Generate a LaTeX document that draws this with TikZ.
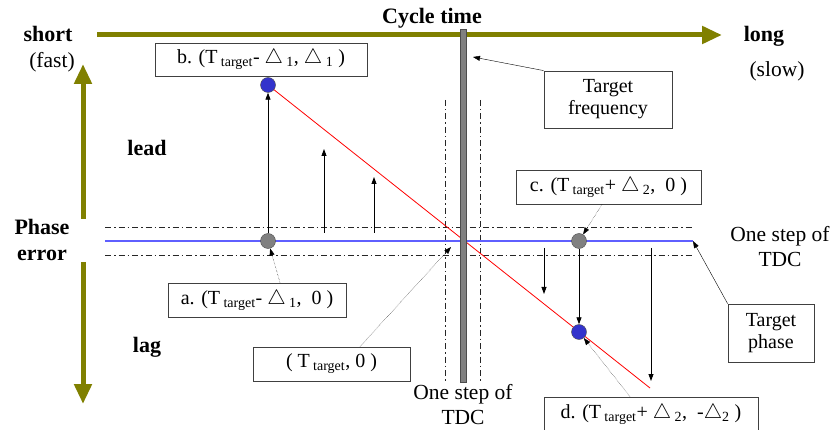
\documentclass[tikz,border=0pt]{standalone}
\usepackage{fontspec}
\setmainfont{Liberation Serif}
\usetikzlibrary{arrows.meta}

\definecolor{axisolive}{RGB}{128,128,0}
\definecolor{dotblue}{RGB}{51,51,204}
\definecolor{lineblue}{RGB}{95,95,255}

\newcommand{\sub}[1]{\,\textsubscript{#1}}
\newcommand{\tri}{$\triangle$}

\begin{document}
\begin{tikzpicture}[x=1pt,y=-1pt,
        axis/.style={draw=axisolive, line width=5pt, -{Triangle[length=20pt,width=17pt]}},
        box/.style={draw=black!75, fill=white, thick, inner sep=0pt, align=center,
            font=\fontsize{20}{22}\selectfont},
        bigtxt/.style={font=\fontsize{21.5}{25}\selectfont, align=center},
        boldtxt/.style={font=\fontsize{22}{26}\selectfont\bfseries, align=center},
        dashdot/.style={black!85, thick, dash pattern=on 6pt off 3pt on 1.5pt off 3pt},
        arr/.style={thick, -{Triangle[length=7pt,width=5pt]}},
        dotarr/.style={densely dotted, thin, -{Triangle[length=7pt,width=5pt]}},
        gdot/.style={circle, draw=black!70, fill=black!50, minimum size=15pt, inner sep=0pt},
        bdot/.style={circle, draw=black!70, fill=dotblue, minimum size=15pt, inner sep=0pt}]
    \useasboundingbox (0,0) rectangle (835,430);

    % axes
    \coordinate (xl) at (97,35);
    \coordinate (xr) at (722,35);
    \coordinate (yt0) at (83,219);
    \coordinate (yt) at (83,64);
    \coordinate (yb0) at (83,262);
    \coordinate (yb) at (83,404);
    \draw[axis] (xl) -- (xr);
    \draw[axis] (yt0) -- (yt);
    \draw[axis] (yb0) -- (yb);

    \node[boldtxt] (short) at (48,34) {short};
    \node[bigtxt] (fast) at (52,62) {(fast)};
    \node[boldtxt] (long) at (764,36) {long};
    \node[bigtxt] (slow) at (777,71) {(slow)};
    \node[boldtxt] (cycle) at (432,18) {Cycle time};
    \node[boldtxt] (phase) at (42,240) {Phase\\error};
    \node[boldtxt] (lead) at (147,148) {lead};
    \node[boldtxt] (lag) at (147,347) {lag};

    % one step of TDC
    \draw[dashdot] (445,100) -- (445,382);
    \draw[dashdot] (480,100) -- (480,382);
    \draw[dashdot] (105,227) -- (693,227);
    \draw[dashdot] (105,255) -- (693,255);

    % target phase line and red line
    \coordinate (pl) at (105,241);
    \coordinate (pr) at (693,241);
    \draw[lineblue, line width=1.2pt] (pl) -- (pr);
    \coordinate (rend) at (650,388);
    \draw[red, thick] (268,85) -- (rend);

    % target frequency bar
    \node[draw=black!70, fill=black!50, minimum width=6pt, minimum height=353pt, inner sep=0pt]
        (bar) at (463,205.5) {};

    \node[bigtxt] (tdcr) at (780,247) {One step of\\TDC};
    \node[bigtxt] (tdcb) at (463,405) {One step of\\TDC};

    % points
    \node[bdot] (b) at (268,85) {};
    \node[gdot] (a) at (268,241) {};
    \node[gdot] (c) at (579,241) {};
    \node[bdot] (d) at (579,332) {};

    % correction arrows
    \draw[arr] (a) -- (b);
    \coordinate (u1) at (324,233);
    \coordinate (u1e) at (324,149);
    \coordinate (u2) at (374,233);
    \coordinate (u2e) at (374,177);
    \draw[arr] (u1) -- (u1e);
    \draw[arr] (u2) -- (u2e);
    \draw[arr] (c) -- (d);
    \coordinate (d1) at (544,248);
    \coordinate (d1e) at (544,294);
    \coordinate (d2) at (651,248);
    \coordinate (d2e) at (651,381);
    \draw[arr] (d1) -- (d1e);
    \draw[arr] (d2) -- (d2e);

    % labels
    \node[box, minimum width=212pt, minimum height=33pt] (bbox) at (261,59.5)
        {b. (T\sub{target}- \tri\sub{1}, \tri\sub{1} )};
    \node[box, minimum width=128pt, minimum height=57pt] (tfbox) at (608,99.5)
        {Target\\frequency};
    \node[box, minimum width=185pt, minimum height=34pt] (cbox) at (608.5,187)
        {c. (T\sub{target}+ \tri\sub{2},\ \ 0 )};
    \node[box, minimum width=178pt, minimum height=34pt] (abox) at (257,300)
        {a. (T\sub{target}- \tri\sub{1},\ \ 0 )};
    \node[box, minimum width=157pt, minimum height=34pt] (tbox) at (331.5,364)
        {( T\sub{target}, 0 )};
    \node[box, minimum width=214pt, minimum height=34pt] (dbox) at (651,414)
        {d. (T\sub{target}+ \tri\sub{2},\ \ -\tri\textsubscript{2} )};
    \node[box, minimum width=86pt, minimum height=58pt] (tpbox) at (771,333)
        {Target\\phase};

    \coordinate (barpt) at (473,57);
    \coordinate (zero) at (451,247);
    \draw[arr, thin] (tfbox.north west) -- (barpt);
    \draw[arr, thin] (tpbox.north west) -- (pr);
    \draw[dotarr] (abox.north -| 280,0) -- (a);
    \draw[dotarr] (cbox.south -| 602,0) -- (c);
    \draw[dotarr] (tbox.north -| 360,0) -- (zero);
    \draw[dotarr] (dbox.north -| 630,0) -- (d);
\end{tikzpicture}
\end{document}
